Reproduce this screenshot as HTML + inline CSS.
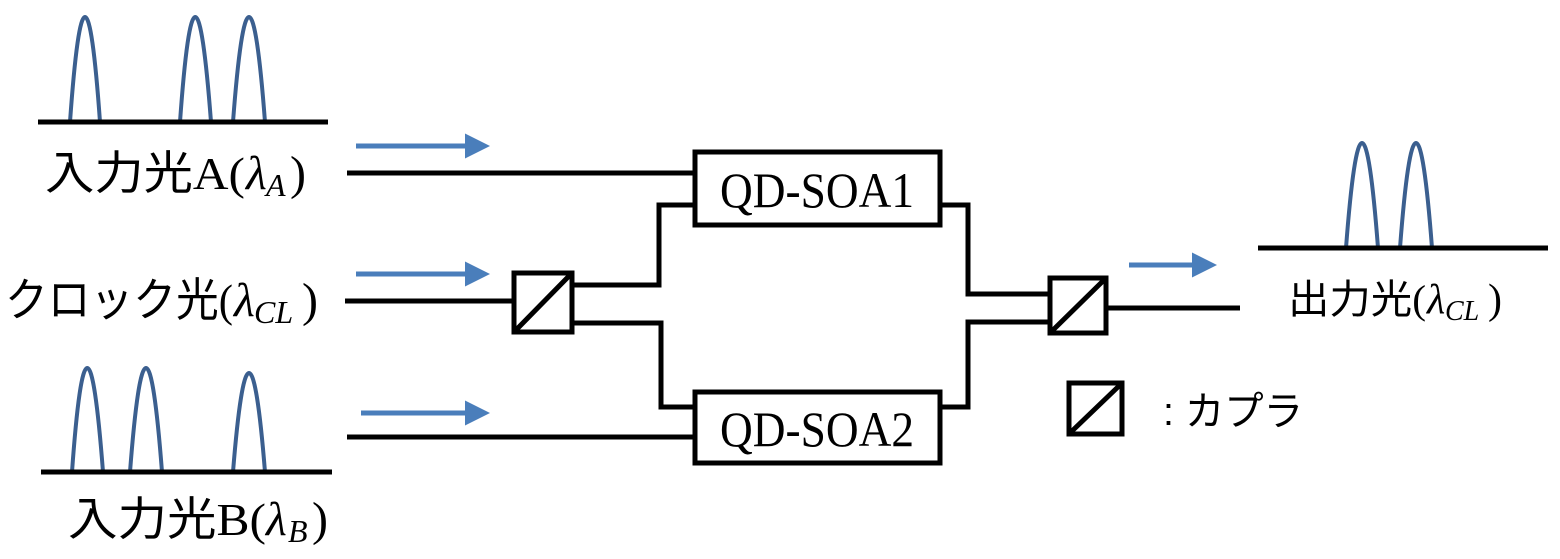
<!DOCTYPE html>
<html><head><meta charset="utf-8"><style>
html,body{margin:0;padding:0;background:#fff;}
svg{display:block}
text{font-family:"Liberation Sans","Noto Sans CJK JP",sans-serif;fill:#000}
.s{font-family:"Liberation Serif","Noto Sans CJK JP",serif}
</style></head><body>
<svg width="1560" height="559" viewBox="0 0 1560 559" xmlns="http://www.w3.org/2000/svg">
<defs><marker id="ar" markerWidth="5" markerHeight="5" refX="4" refY="2.5" orient="auto" markerUnits="strokeWidth"><path d="M0,0 L5,2.5 L0,5 Z" fill="#4a7ebb"/></marker></defs>
<g fill="none" stroke="#3b5f8f" stroke-width="4">
<path d="M70,122 Q85,-88 100,122"/>
<path d="M180,122 Q195,-88 211,122"/>
<path d="M233,122 Q249,-88 265,122"/>
<path d="M72,472 Q87,264 103,472"/>
<path d="M130,472 Q146,264 162,472"/>
<path d="M233,472 Q249,274 265,472"/>
<path d="M1346,248 Q1362,38 1378,248"/>
<path d="M1400,248 Q1416,38 1432,248"/>
</g>
<g stroke="#4a7ebb" stroke-width="5" marker-end="url(#ar)">
<line x1="356" y1="146" x2="485" y2="146"/>
<line x1="356" y1="274" x2="485" y2="274"/>
<line x1="361" y1="413" x2="485" y2="413"/>
<line x1="1129" y1="265" x2="1212" y2="265"/>
</g>
<g stroke="#000" stroke-width="5" fill="none">
<line x1="38" y1="122" x2="328" y2="122"/>
<line x1="41" y1="472" x2="332" y2="472"/>
<line x1="1258" y1="248" x2="1548" y2="248"/>
<line x1="347" y1="173" x2="697" y2="173"/>
<line x1="345" y1="301" x2="514" y2="301"/>
<line x1="347" y1="437" x2="697" y2="437"/>
<rect x="695" y="152" width="245" height="73" fill="#fff"/>
<rect x="695" y="392" width="245" height="71" fill="#fff"/>
<rect x="514" y="273" width="58" height="59"/>
<line x1="516" y1="330" x2="570" y2="275"/>
<polyline points="572,285 659,285 659,205 697,205"/>
<polyline points="572,323 661,323 661,407 697,407"/>
<polyline points="940,205 968,205 968,294 1050,294"/>
<polyline points="940,407 968,407 968,322 1050,322"/>
<rect x="1050" y="278" width="56" height="55"/>
<line x1="1052" y1="331" x2="1104" y2="280"/>
<line x1="1106" y1="308" x2="1240" y2="308"/>
<rect x="1069" y="383" width="53" height="51"/>
<line x1="1071" y1="432" x2="1120" y2="385"/>
</g>
<text class="s" x="720" y="207" font-size="50" textLength="194" lengthAdjust="spacingAndGlyphs">QD-SOA1</text>
<text class="s" x="720" y="446" font-size="50" textLength="194" lengthAdjust="spacingAndGlyphs">QD-SOA2</text>
<text x="45" y="189" font-size="46" textLength="200" lengthAdjust="spacingAndGlyphs">入力光<tspan class="s">A(</tspan></text>
<text class="s" x="246" y="189" font-size="48" font-style="italic">λ</text>
<text class="s" x="266" y="196" font-size="32" font-style="italic">A</text>
<text class="s" x="290" y="189" font-size="48">)</text>
<text x="5" y="316" font-size="46" textLength="228" lengthAdjust="spacingAndGlyphs">クロック光<tspan class="s">(</tspan></text>
<text class="s" x="234" y="316" font-size="48" font-style="italic">λ</text>
<text class="s" x="254" y="323" font-size="32" font-style="italic">CL</text>
<text class="s" x="302" y="316" font-size="48">)</text>
<text x="68" y="535" font-size="46" textLength="198" lengthAdjust="spacingAndGlyphs">入力光<tspan class="s">B(</tspan></text>
<text class="s" x="266" y="535" font-size="48" font-style="italic">λ</text>
<text class="s" x="288" y="542" font-size="32" font-style="italic">B</text>
<text class="s" x="312" y="535" font-size="48">)</text>
<text x="1288" y="313" font-size="40" textLength="138" lengthAdjust="spacingAndGlyphs">出力光<tspan class="s">(</tspan></text>
<text class="s" x="1427" y="313" font-size="42" font-style="italic">λ</text>
<text class="s" x="1445" y="320" font-size="28" font-style="italic">CL</text>
<text class="s" x="1488" y="313" font-size="42">)</text>
<text x="1163" y="425" font-size="40" textLength="140" lengthAdjust="spacingAndGlyphs">: カプラ</text>
</svg>
</body></html>
